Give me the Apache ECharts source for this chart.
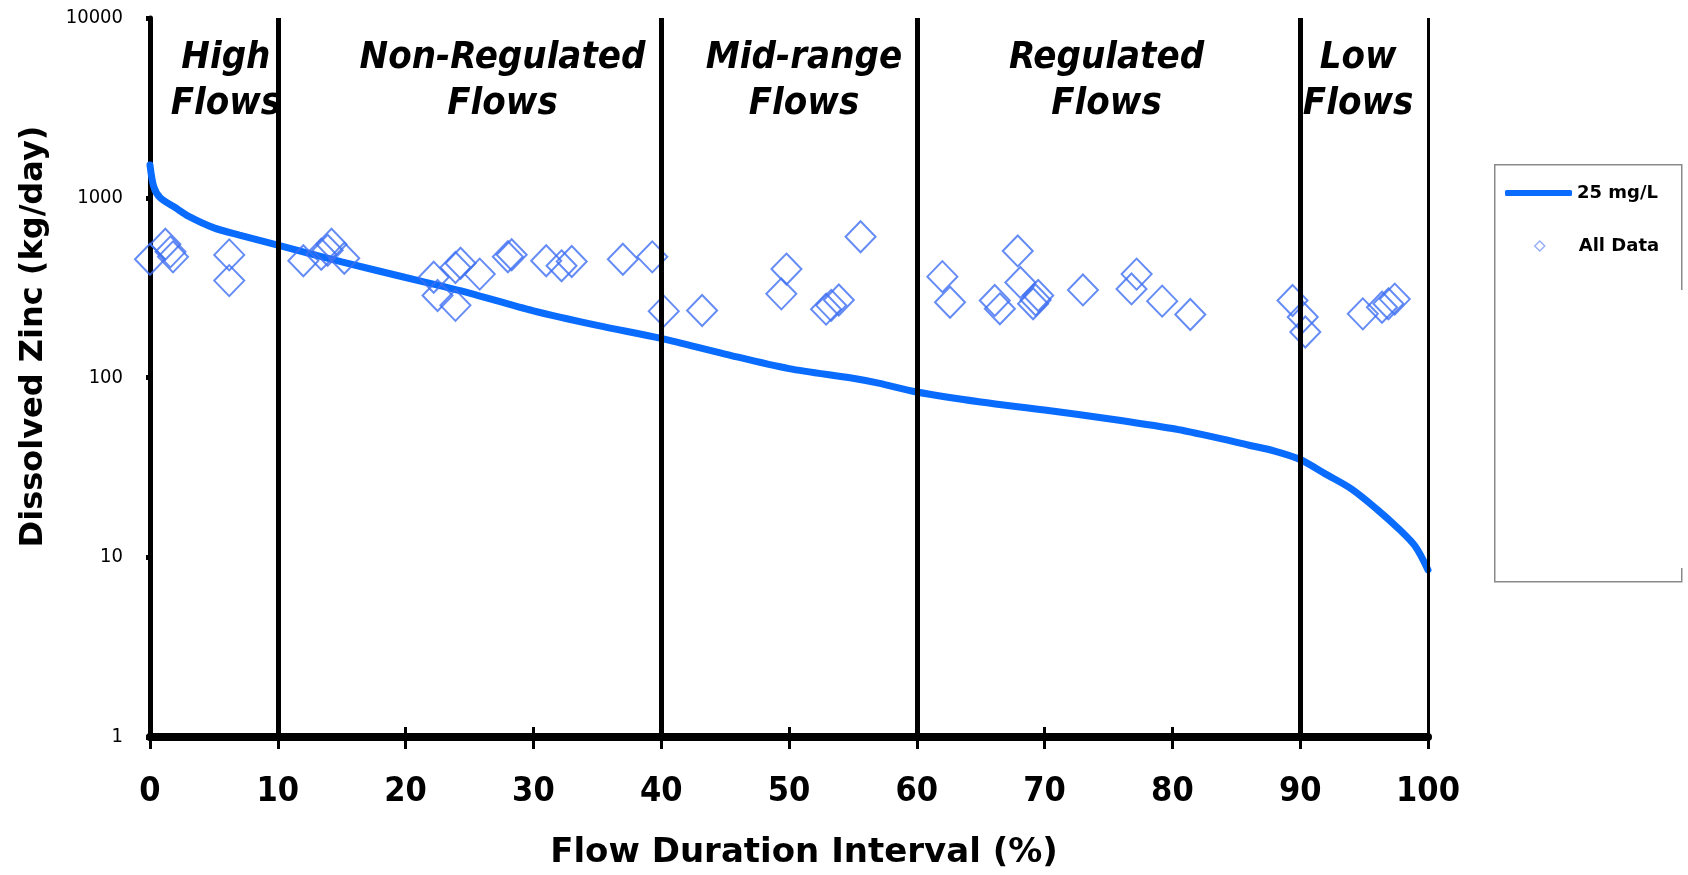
<!DOCTYPE html>
<html>
<head>
<meta charset="utf-8">
<script src="https://cdn.jsdelivr.net/npm/echarts@6/dist/echarts.min.js"></script>
<style>
html,body{margin:0;padding:0;background:#fff;}
#chart{width:1688px;height:875px;}
</style>
</head>
<body>
<div id="chart"></div>
<script>
// ---- data ----
const curveX = [0, 0.3, 0.8, 2, 3, 5, 7, 10, 15, 20, 23, 25, 30, 35, 40, 45, 50, 55, 57, 60, 65, 70, 75, 80, 83, 86, 88, 90, 92, 94, 96, 97.7, 99, 100];
const curveY = [1520, 1150, 1000, 880, 790, 680, 620, 545, 440, 360, 320, 295, 235, 195, 165, 135, 112, 99, 93, 83, 73, 66, 59, 52, 47, 42, 39, 35, 29, 24, 18.5, 14.4, 11.5, 8.5];

const dataX = [0.0, 1.2, 1.6, 1.8, 6.2, 6.2, 12.0, 13.4, 13.9, 14.2, 15.2, 22.2, 22.5, 23.9, 24.3, 23.9, 25.8, 28.0, 28.3, 31.0, 32.2, 33.0, 37.0, 39.3, 40.2, 43.2, 49.8, 49.4, 52.9, 53.3, 53.9, 55.6, 62.0, 62.6, 67.9, 68.1, 66.1, 66.5, 69.1, 69.5, 69.3, 73.0, 77.2, 76.8, 79.2, 81.4, 89.4, 90.2, 90.4, 94.9, 96.4, 96.9, 97.4];
const dataY = [455, 551, 500, 469, 481, 346, 446, 485, 510, 551, 461, 361, 286, 409, 432, 252, 376, 470, 482, 446, 418, 442, 455, 469, 234, 236, 401, 292, 240, 252, 270, 607, 364, 262, 506, 338, 268, 241, 257, 286, 270, 307, 376, 311, 266, 224, 268, 217, 179, 226, 246, 257, 273];

const xTicks = [0, 10, 20, 30, 40, 50, 60, 70, 80, 90, 100];
const yTicks = [1, 10, 100, 1000, 10000];

const regionBounds = [[0, 10], [10, 40], [40, 60], [60, 90], [90, 100]];
const regionNames = ['High\nFlows', 'Non-Regulated\nFlows', 'Mid-range\nFlows', 'Regulated\nFlows', 'Low\nFlows'];
const regionLabelShift = [12, 33, 15, -2, -6];
const dividerX = [10, 40, 60, 90, 100];

const seriesNames = ['25 mg/L', 'All Data'];

// ---- build ----
const curve = curveX.map((x, i) => [x, curveY[i]]);
const points = dataX.map((x, i) => [x, dataY[i]]);

const COND = "'DejaVu Sans Condensed', 'DejaVu Sans', sans-serif";
const SANS = "'DejaVu Sans', sans-serif";
const LINE_BLUE = '#0a6cff';
const DIA_BLUE = '#3f6ff2';

const chart = echarts.init(document.getElementById('chart'), null, {renderer: 'canvas'});

const option = {
  backgroundColor: '#fff',
  animation: false,
  grid: {left: 150, right: 260, top: 18, bottom: 132, containLabel: false},
  xAxis: [{
    type: 'value', min: 0, max: 100, interval: 10,
    name: 'Flow Duration Interval (%)', nameLocation: 'middle', nameGap: 99,
    nameTextStyle: {fontFamily: SANS, fontWeight: 'bold', fontSize: 34, color: '#000', padding: [0, 0, 0, 30]},
    axisLine: {show: true, lineStyle: {color: '#000', width: 8}},
    axisTick: {show: true, length: 12, lineStyle: {color: '#000', width: 3}},
    axisLabel: {margin: 38, fontFamily: COND, fontWeight: 'bold', fontSize: 34, color: '#000',
      formatter: v => xTicks.indexOf(v) >= 0 ? String(v) : ''},
    splitLine: {show: false}
  }, {
    type: 'value', min: 0, max: 100, interval: 10, position: 'bottom',
    axisLine: {show: false},
    axisTick: {show: true, inside: true, length: 10, lineStyle: {color: '#000', width: 3}},
    axisLabel: {show: false},
    splitLine: {show: false}
  }],
  yAxis: {
    type: 'log', logBase: 10, min: 1, max: 10000,
    name: 'Dissolved Zinc (kg/day)', nameLocation: 'middle', nameGap: 100, nameRotate: 90,
    nameTextStyle: {fontFamily: SANS, fontWeight: 'bold', fontSize: 32, color: '#000', padding: [0, 0, 0, 82]},
    axisLine: {show: true, lineStyle: {color: '#000', width: 5}},
    axisTick: {show: true, length: 4, lineStyle: {color: '#000', width: 5}},
    axisLabel: {margin: 27, fontFamily: COND, fontSize: 20, color: '#000',
      formatter: v => yTicks.indexOf(v) >= 0 ? String(v) : ''},
    splitLine: {show: false}
  },
  legend: [{
    data: [{name: seriesNames[0], icon: 'roundRect'}],
    left: 1505, top: 184, itemWidth: 67, itemHeight: 6, padding: 0,
    textStyle: {fontFamily: SANS, fontWeight: 'bold', fontSize: 18, color: '#000'}
  }, {
    data: [{name: seriesNames[1], icon: 'path://M5,0L10,5L5,10L0,5Z',
      itemStyle: {color: 'rgba(0,0,0,0)', borderColor: '#7d9bf5', borderWidth: 1.5}}],
    left: 1534, top: 237, itemWidth: 10, itemHeight: 10, padding: 0,
    textStyle: {fontFamily: SANS, fontWeight: 'bold', fontSize: 18, color: '#000', padding: [0, 0, 0, 29]}
  }],
  graphic: [{
    type: 'rect', left: 1494, top: 164, z: -1,
    shape: {width: 187, height: 417},
    style: {fill: '#fff', stroke: '#8a8a8a', lineWidth: 1.5}
  }, {
    type: 'rect', left: 1678, top: 290, z: -1, zlevel: 0,
    shape: {width: 8, height: 278},
    style: {fill: '#fff', stroke: null}
  }],
  series: [{
    name: seriesNames[0], type: 'line', data: curve,
    symbol: 'none', showSymbol: false, smooth: 0.3,
    lineStyle: {color: LINE_BLUE, width: 7, cap: 'round'},
    itemStyle: {color: LINE_BLUE},
    z: 3
  }, {
    name: seriesNames[1], type: 'scatter', data: points,
    symbol: 'diamond', symbolSize: [30, 31],
    itemStyle: {color: 'rgba(0,0,0,0)', borderColor: DIA_BLUE, borderWidth: 2},
    z: 4
  }, {
    name: 'regions', type: 'line', data: [], z: 10,
    markLine: {
      silent: true, symbol: 'none',
      label: {show: false},
      lineStyle: {color: '#000', width: 5, type: 'solid'},
      data: dividerX.map(x => ({xAxis: x, lineStyle: {width: x === 100 ? 3 : 5}}))
    },
    markArea: {
      silent: true,
      itemStyle: {color: 'rgba(0,0,0,0)'},
      label: {show: true, position: 'insideTop', distance: 0,
        fontFamily: COND, fontStyle: 'italic', fontWeight: 'bold', fontSize: 38,
        lineHeight: 46, color: '#000'},
      data: regionBounds.map((b, i) => [
        {xAxis: b[0], name: regionNames[i], label: {offset: [regionLabelShift[i], 17]}},
        {xAxis: b[1]}
      ])
    }
  }]
};
chart.setOption(option);
</script>
</body>
</html>
